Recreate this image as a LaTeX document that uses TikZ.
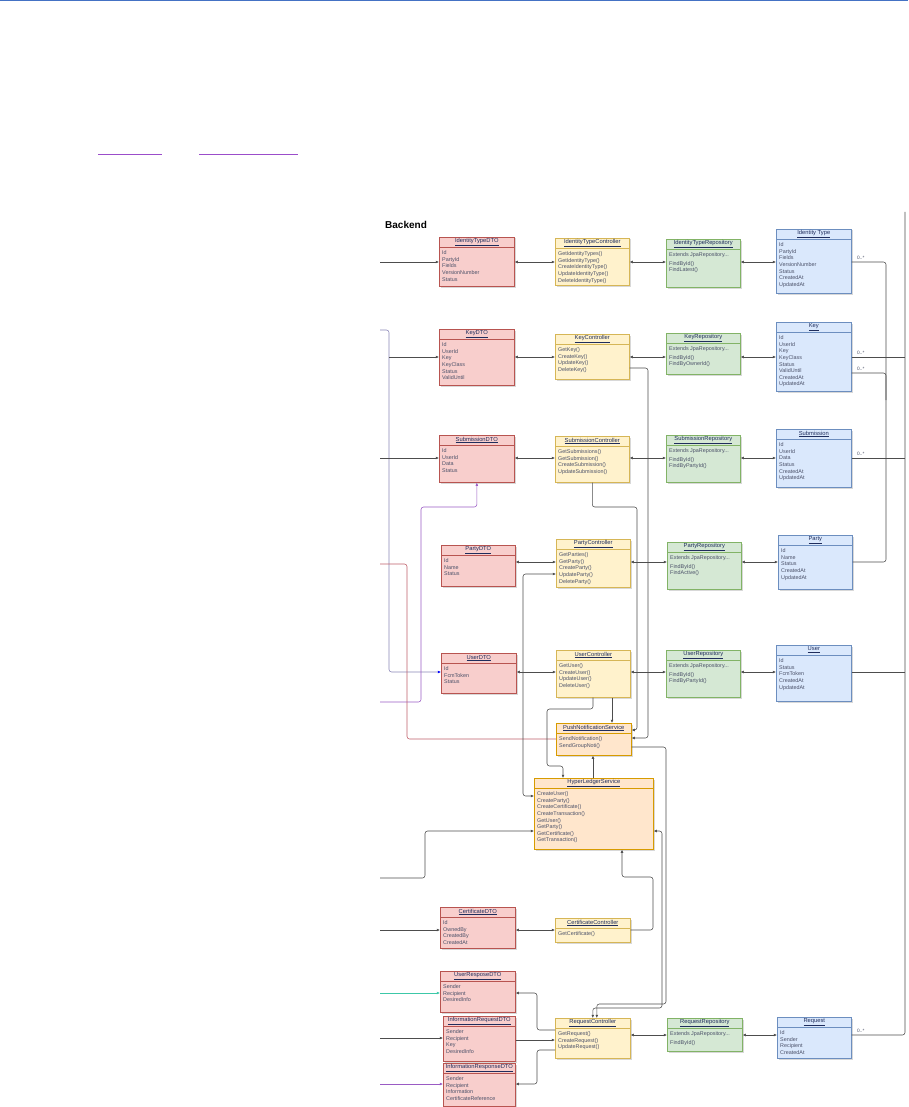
\documentclass[tikz,border=0pt]{standalone}
\usepackage{fontspec}
\setmainfont{Liberation Sans}
\usetikzlibrary{arrows.meta,shadows}

\definecolor{dtofill}{HTML}{F8CECC}  \definecolor{dtoedge}{HTML}{B85450}
\definecolor{ctrlfill}{HTML}{FFF2CC} \definecolor{ctrledge}{HTML}{D6B656}
\definecolor{repofill}{HTML}{D5E8D4} \definecolor{repoedge}{HTML}{82B366}
\definecolor{entfill}{HTML}{DAE8FC}  \definecolor{entedge}{HTML}{6C8EBF}
\definecolor{svcfill}{HTML}{FFE6CC}  \definecolor{svcedge}{HTML}{D79B00}
\definecolor{headblue}{HTML}{4472C4}
\definecolor{linkpurple}{HTML}{9B4DCA}
\definecolor{wiregray}{HTML}{4D4D4D}
\definecolor{wirelilac}{HTML}{8A86B8}
\definecolor{wirepurple}{HTML}{9A5BC4}
\definecolor{wirered}{HTML}{C0606A}
\definecolor{wireteal}{HTML}{3CC8A8}
\definecolor{titletext}{HTML}{1F2D5C}
\definecolor{bodytext}{HTML}{4A5068}

% class box: name, kind, corner, width, height, title, members
\newcommand{\umlclass}[7]{%
  \node[cls,fill=#2fill,draw=#2edge,minimum width=#4,minimum height=#5,anchor=north west] (#1) at #3 {};
  \node[clstitle] (#1-title) at ([yshift=-5pt]#1.north) {\underline{#6}};
  \draw[draw=#2edge,line width=0.5pt] ([yshift=-10pt]#1.north west) -- ([yshift=-10pt]#1.north east);
  \node[clsbody] (#1-body) at ([xshift=3pt,yshift=-13.5pt]#1.north west) {#7};
}

\begin{document}
\begin{tikzpicture}[x=1pt,y=-1pt,
  cls/.style={rectangle,line width=0.6pt,inner sep=0pt,drop shadow={shadow xshift=1.2pt,shadow yshift=-1.2pt,opacity=0.3}},
  clstitle/.style={inner sep=0pt,font=\fontsize{5.8}{7}\selectfont,text=titletext},
  clsbody/.style={anchor=north west,inner sep=0pt,align=left,font=\fontsize{5.4}{6.6}\selectfont,text=bodytext},
  wire/.style={draw=wiregray,line width=0.55pt,rounded corners=2.5pt},
  tip/.style={-{Latex[length=3.2pt,width=2.8pt]}},
  both/.style={{Latex[length=3.2pt,width=2.8pt]}-{Latex[length=3.2pt,width=2.8pt]}},
  mult/.style={font=\fontsize{4.8}{5}\selectfont,text=bodytext,inner sep=0pt,anchor=south west}]
\useasboundingbox (0,0) rectangle (908,1107);
\fill[white] (0,0) rectangle (908,1107);

% page decoration
\draw[headblue,line width=1.2pt] (0,0.6) -- (908,0.6);
\draw[linkpurple,line width=0.8pt] (98,154) -- (162,154);
\draw[linkpurple,line width=0.8pt] (199,154) -- (298,154);
\node[font=\fontsize{10}{12}\selectfont\bfseries,anchor=west,inner sep=0pt] (backend) at (385,225) {Backend};

% row heights
\coordinate (rowIdt) at (0,262);
\coordinate (rowK) at (0,357);
\coordinate (rowSub) at (0,458);
\coordinate (rowParty) at (0,562);
\coordinate (rowUser) at (0,672);
\coordinate (rowCert) at (0,930);
\coordinate (rowReq) at (0,1035);

% identity type
\umlclass{idtDTO}{dto}{(439,237)}{75}{49}{IdentityTypeDTO}{Id\\PartyId\\Fields\\VersionNumber\\Status}
\umlclass{idtCtrl}{ctrl}{(555,238)}{74}{47}{IdentityTypeController}{GetIdentityTypes()\\GetIdentityType()\\CreateIdentityType()\\UpdateIdentityType()\\DeleteIdentityType()}
\umlclass{idtRepo}{repo}{(666,239)}{74}{48}{IdentityTypeRepository}{Extends JpaRepository...\\[2pt]FindById()\\FindLatest()}
\umlclass{idtEnt}{ent}{(776,229)}{75}{64}{Identity Type}{Id\\PartyId\\Fields\\VersionNumber\\Status\\CreatedAt\\UpdatedAt}

% key
\umlclass{kDTO}{dto}{(439,329)}{75}{56}{KeyDTO}{Id\\UserId\\Key\\KeyClass\\Status\\ValidUntil}
\umlclass{kCtrl}{ctrl}{(555,334)}{74}{45}{KeyController}{GetKey()\\CreateKey()\\UpdateKey()\\DeleteKey()}
\umlclass{kRepo}{repo}{(666,333)}{74}{41}{KeyRepository}{Extends JpaRepository...\\[2pt]FindById()\\FindByOwnerId()}
\umlclass{kEnt}{ent}{(776,322)}{75}{69}{Key}{Id\\UserId\\Key\\KeyClass\\Status\\ValidUntil\\CreatedAt\\UpdatedAt}

% submission
\umlclass{subDTO}{dto}{(439,435)}{75}{47}{SubmissionDTO}{Id\\UserId\\Data\\Status}
\umlclass{subCtrl}{ctrl}{(555,436)}{74}{46}{SubmissionController}{GetSubmissions()\\GetSubmission()\\CreateSubmission()\\UpdateSubmission()}
\umlclass{subRepo}{repo}{(666,435)}{74}{47}{SubmissionRepository}{Extends JpaRepository...\\[2pt]FindById()\\FindByPartyId()}
\umlclass{subEnt}{ent}{(776,429)}{75}{58}{Submission}{Id\\UserId\\Data\\Status\\CreatedAt\\UpdatedAt}

% party
\umlclass{partyDTO}{dto}{(441,545)}{74}{41}{PartyDTO}{Id\\Name\\Status}
\umlclass{partyCtrl}{ctrl}{(556,539)}{74}{48}{PartyController}{GetParties()\\GetParty()\\CreateParty()\\UpdateParty()\\DeleteParty()}
\umlclass{partyRepo}{repo}{(667,542)}{74}{47}{PartyRepository}{Extends JpaRepository...\\[2pt]FindById()\\FindActive()}
\umlclass{partyEnt}{ent}{(778,535)}{74}{54}{Party}{Id\\Name\\Status\\CreatedAt\\UpdatedAt}

% user
\umlclass{userDTO}{dto}{(441,653)}{75}{40}{UserDTO}{Id\\FcmToken\\Status}
\umlclass{userCtrl}{ctrl}{(556,650)}{74}{47}{UserController}{GetUser()\\CreateUser()\\UpdateUser()\\DeleteUser()}
\umlclass{userRepo}{repo}{(666,650)}{74}{47}{UserRepository}{Extends JpaRepository...\\[2pt]FindById()\\FindByPartyId()}
\umlclass{userEnt}{ent}{(776,645)}{75}{56}{User}{Id\\Status\\FcmToken\\CreatedAt\\UpdatedAt}

% services
\umlclass{pns}{svc}{(556,723)}{75}{32}{PushNotificationService}{SendNotification()\\SendGroupNoti()}
\umlclass{hls}{svc}{(534,778)}{119}{71}{HyperLedgerService}{CreateUser()\\CreateParty()\\CreateCertificate()\\CreateTransaction()\\GetUser()\\GetParty()\\GetCertificate()\\GetTransaction()}

% certificate and request
\umlclass{certDTO}{dto}{(440,907)}{75}{41}{CertificateDTO}{Id\\OwnedBy\\CreatedBy\\CreatedAt}
\umlclass{certCtrl}{ctrl}{(555,918)}{75}{24}{CertificateController}{GetCertificate()}
\umlclass{ursDTO}{dto}{(440,971)}{75}{41}{UserResposeDTO}{Sender\\Recipient\\DesiredInfo}
\umlclass{irqDTO}{dto}{(443,1016)}{72}{45}{InformationRequestDTO}{Sender\\Recipient\\Key\\DesiredInfo}
\umlclass{irsDTO}{dto}{(443,1063)}{72}{43}{InformationResponseDTO}{Sender\\Recipient\\Information\\CertificateReference}
\umlclass{reqCtrl}{ctrl}{(555,1018)}{75}{40}{RequestController}{GetRequest()\\CreateRequest()\\UpdateRequest()}
\umlclass{reqRepo}{repo}{(667,1018)}{75}{33}{RequestRepository}{Extends JpaRepository...\\[2pt]FindById()}
\umlclass{reqEnt}{ent}{(777,1017)}{74}{41}{Request}{Id\\Sender\\Recipient\\CreatedAt}

% rows: dto <-> controller <-> repository <-> entity
\draw[wire,both] (idtDTO.east |- rowIdt) -- (idtCtrl.west |- rowIdt);
\draw[wire,both] (idtCtrl.east |- rowIdt) -- (idtRepo.west |- rowIdt);
\draw[wire,both] (idtRepo.east |- rowIdt) -- (idtEnt.west |- rowIdt);
\draw[wire,both] (kDTO.east |- rowK) -- (kCtrl.west |- rowK);
\draw[wire,both] (kCtrl.east |- rowK) -- (kRepo.west |- rowK);
\draw[wire,both] (kRepo.east |- rowK) -- (kEnt.west |- rowK);
\draw[wire,both] (subDTO.east |- rowSub) -- (subCtrl.west |- rowSub);
\draw[wire,both] (subCtrl.east |- rowSub) -- (subRepo.west |- rowSub);
\draw[wire,both] (subRepo.east |- rowSub) -- (subEnt.west |- rowSub);
\draw[wire,both] (partyDTO.east |- rowParty) -- (partyCtrl.west |- rowParty);
\draw[wire,both] (partyCtrl.east |- rowParty) -- (partyRepo.west |- rowParty);
\draw[wire,both] (partyRepo.east |- rowParty) -- (partyEnt.west |- rowParty);
\draw[wire,both] (userDTO.east |- rowUser) -- (userCtrl.west |- rowUser);
\draw[wire,both] (userCtrl.east |- rowUser) -- (userRepo.west |- rowUser);
\draw[wire,both] (userRepo.east |- rowUser) -- (userEnt.west |- rowUser);
\draw[wire,both] (certDTO.east |- rowCert) -- (certCtrl.west |- rowCert);
\draw[wire,both] (reqCtrl.east |- rowReq) -- (reqRepo.west |- rowReq);
\draw[wire,both] (reqRepo.east |- rowReq) -- (reqEnt.west |- rowReq);

% incoming from the left
\coordinate (inIdt) at (380,262);
\coordinate (inKey) at (380,330);
\coordinate (kBranch) at (389,357);
\coordinate (inSub) at (380,458);
\coordinate (inSubUp) at (380,702);
\coordinate (inParty) at (380,564);
\coordinate (inHls) at (380,878);
\coordinate (inCert) at (380,930);
\coordinate (inUrs) at (380,993);
\coordinate (inIrq) at (380,1038);
\coordinate (inIrs) at (380,1084);
\draw[wire,tip] (inIdt) -- (idtDTO.west |- rowIdt);
\draw[wire,draw=wirelilac,-{Latex[length=3.2pt,width=2.8pt,color=blue]}] (inKey) -| (kBranch) |- (userDTO.west |- rowUser);
\draw[wire,tip] (kBranch) -- (kDTO.west |- rowK);
\draw[wire,tip] (inSub) -- (subDTO.west |- rowSub);
\draw[wire,draw=wirepurple,-{Latex[length=3.2pt,width=2.8pt,color=wirepurple]}] (inSubUp) -| (421,507) -| (subDTO.south);
\draw[wire,draw=wirered] (inParty) -| (407,739) -- (pns.west |- 407,739);
\draw[wire,tip] (inHls) -| (425,831) -- (hls.west |- 425,831);
\draw[wire,tip] (inCert) -- (certDTO.west |- rowCert);
\draw[wire,draw=wireteal,tip] (inUrs) -- (ursDTO.west |- inUrs);
\draw[wire,tip] (inIrq) -- (irqDTO.west |- inIrq);
\draw[wire,draw=wirepurple,tip] (inIrs) -- (irsDTO.west |- inIrs);

% entity multiplicities
\draw[wire] (idtEnt.east |- rowIdt) -| (886,562) -- (partyEnt.east |- rowParty);
\draw[wire] (kEnt.east |- 0,373) -| (886,400);
\draw[wire] (reqEnt.east |- rowReq) -| (905,212);
\draw[wire] (kEnt.east |- rowK) -- (905,357);
\draw[wire] (subEnt.east |- rowSub) -- (905,458);
\draw[wire] (userEnt.east |- rowUser) -- (905,672);
\node[mult] (mIdt) at (857,260) {0..*};
\node[mult] (mK1) at (857,355) {0..*};
\node[mult] (mK2) at (857,371) {0..*};
\node[mult] (mSub) at (857,456) {0..*};
\node[mult] (mReq) at (857,1033) {0..*};

% controllers and services
\draw[wire,tip] (kCtrl.east |- 0,368) -| (648,738) -- (pns.east |- 648,738);
\draw[wire,tip] (subCtrl.south) |- (637,507) |- (pns.east |- 637,730);
\draw[wire,tip] (pns.east |- 0,747) -| (666,1004) -| ([xshift=4pt]reqCtrl.north);
\draw[wire,both] (hls.east |- 0,831) -| (662,1008) -| (reqCtrl.north);
\draw[wire,tip] (userCtrl.south -| 612,0) -- (pns.north -| 612,0);
\draw[wire,tip] (userCtrl.south -| 593,0) |- (547,709) |- (563,766) -- (hls.north -| 563,0);
\draw[wire,tip] (hls.north -| 593,0) -- (pns.south -| 593,0);
\draw[wire,both] (partyCtrl.west |- 0,574) -| (523,796) -- (hls.west |- 523,796);
\draw[wire,tip] (certCtrl.east |- rowCert) -| (653,877) -| (hls.south -| 622,0);
\draw[wire,tip] (reqCtrl.west |- 0,1030) -| (537,993) -- (ursDTO.east |- 537,993);
\draw[wire,tip] (irqDTO.east |- 0,1040) -- (reqCtrl.west |- 0,1040);
\draw[wire,tip] (reqCtrl.west |- 0,1050) -| (537,1084) -- (irsDTO.east |- 537,1084);
\end{tikzpicture}
\end{document}
